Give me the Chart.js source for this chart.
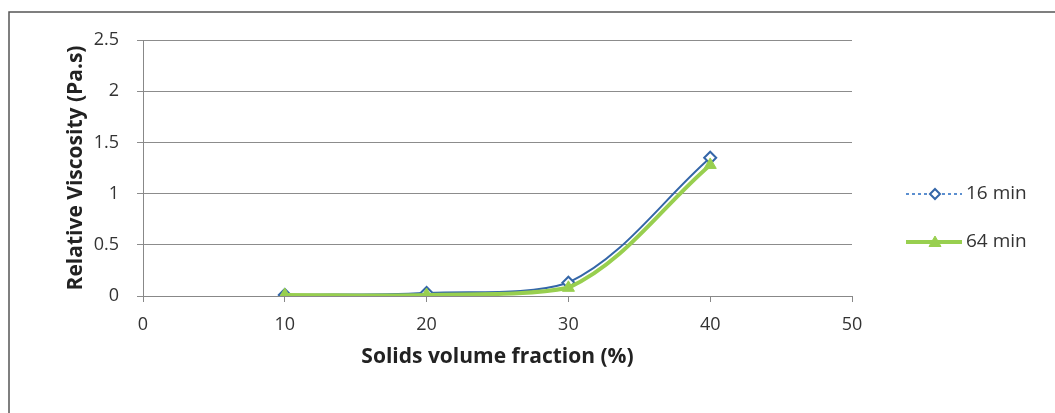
<!DOCTYPE html>
<html>
<head>
<meta charset="utf-8">
<script src="https://cdn.jsdelivr.net/npm/chart.js@4"></script>
<style>
  html, body { margin: 0; padding: 0; background: #fff; }
  #wrap { width: 1055px; height: 413px; }
</style>
</head>
<body>
<div id="wrap"><canvas id="myChart" width="1055" height="413"></canvas></div>
<script>
const fractionVals = [10, 20, 30, 40];
const visc16Vals = [0.01, 0.03, 0.13, 1.35];
const visc64Vals = [0.01, 0.01, 0.08, 1.28];
const seriesNames = ['16 min', '64 min'];

const blue = '#3466a8';
const green = '#98cf4f';
const fontFamily = '"Open Sans", sans-serif';

function toPoints(vals) {
    return fractionVals.map((x, i) => ({ x: x, y: vals[i] }));
}

function drawMarker(ctx, style, x, y, r) {
    if (style === 'triangle') {
        ctx.moveTo(x, y - r);
        ctx.lineTo(x + r, y + r * 0.75);
        ctx.lineTo(x - r, y + r * 0.75);
        ctx.closePath();
    } else {
        ctx.moveTo(x, y - r);
        ctx.lineTo(x + r, y);
        ctx.lineTo(x, y + r);
        ctx.lineTo(x - r, y);
        ctx.closePath();
    }
}

// frame lines plus legend on the right
const extras = {
    id: 'extras',
    afterDraw(chart) {
        const ctx = chart.ctx;
        ctx.save();
        ctx.strokeStyle = '#555';
        ctx.lineWidth = 1.5;
        ctx.beginPath();
        ctx.moveTo(9, 413);
        ctx.lineTo(9, 12);
        ctx.lineTo(1055, 12);
        ctx.stroke();

        const items = [{ y: 194, ds: chart.data.datasets[0] }, { y: 242, ds: chart.data.datasets[1] }];
        items.forEach(it => {
            const ds = it.ds;
            ctx.strokeStyle = ds.legendColor || ds.borderColor;
            ctx.lineWidth = ds.borderWidth;
            ctx.setLineDash(ds.legendDash || []);
            ctx.beginPath();
            ctx.moveTo(906, it.y);
            ctx.lineTo(962, it.y);
            ctx.stroke();
            ctx.setLineDash([]);
            ctx.fillStyle = ds.pointBackgroundColor;
            ctx.strokeStyle = ds.pointBorderColor;
            ctx.lineWidth = ds.pointBorderWidth || 1;
            ctx.beginPath();
            drawMarker(ctx, ds.pointStyle, 935, it.y, ds.pointRadius - 1);
            ctx.fill();
            ctx.stroke();
            ctx.fillStyle = '#333';
            ctx.font = '19px ' + fontFamily;
            ctx.textBaseline = 'middle';
            ctx.fillText(ds.label, 966, it.y);
        });
        ctx.restore();
    }
};

var mychart = new Chart('myChart', {
    type: 'line',
    data: {
        datasets: [{
            label: seriesNames[0],
            data: toPoints(visc16Vals),
            borderColor: blue,
            borderWidth: 2,
            tension: 0.35,
            pointStyle: 'rectRot',
            pointRadius: 6,
            pointBackgroundColor: '#fff',
            pointBorderColor: blue,
            pointBorderWidth: 2,
            legendColor: '#5b8fd0',
            legendDash: [3, 3],
            order: 2,
        },
        {
            label: seriesNames[1],
            data: toPoints(visc64Vals),
            borderColor: green,
            borderWidth: 4,
            tension: 0.35,
            pointStyle: 'triangle',
            pointRadius: 7,
            pointBackgroundColor: green,
            pointBorderColor: green,
            pointBorderWidth: 1,
            order: 1,
        }]
    },
    options: {
        responsive: false,
        animation: false,
        layout: { padding: { left: 63, right: 203, top: 40, bottom: 43 } },
        plugins: {
            legend: { display: false },
            tooltip: { enabled: false },
        },
        scales: {
            x: {
                type: 'linear',
                min: 0,
                max: 50,
                ticks: { stepSize: 10, color: '#333', font: { family: fontFamily, size: 18 }, padding: 12 },
                grid: { drawOnChartArea: false, color: '#888', tickLength: 6 },
                border: { color: '#888' },
                title: {
                    display: true,
                    text: 'Solids volume fraction (%)',
                    color: '#222',
                    font: { family: fontFamily, size: 21, weight: 'bold' },
                    padding: { top: 4, bottom: 0 },
                },
                afterFit: s => { s.height = 74; },
            },
            y: {
                min: 0,
                max: 2.5,
                ticks: {
                    stepSize: 0.5,
                    color: '#333',
                    font: { family: fontFamily, size: 18 },
                    padding: 18,
                    callback: v => String(v),
                },
                grid: { color: '#8c8c8c', tickLength: 6 },
                border: { color: '#888' },
                title: {
                    display: true,
                    text: 'Relative Viscosity (Pa.s)',
                    color: '#222',
                    font: { family: fontFamily, size: 21, weight: 'bold' },
                    padding: { top: 0, bottom: 0 },
                },
                afterFit: s => { s.width = 80; },
            },
        },
    },
    plugins: [extras],
});
</script>
</body>
</html>
